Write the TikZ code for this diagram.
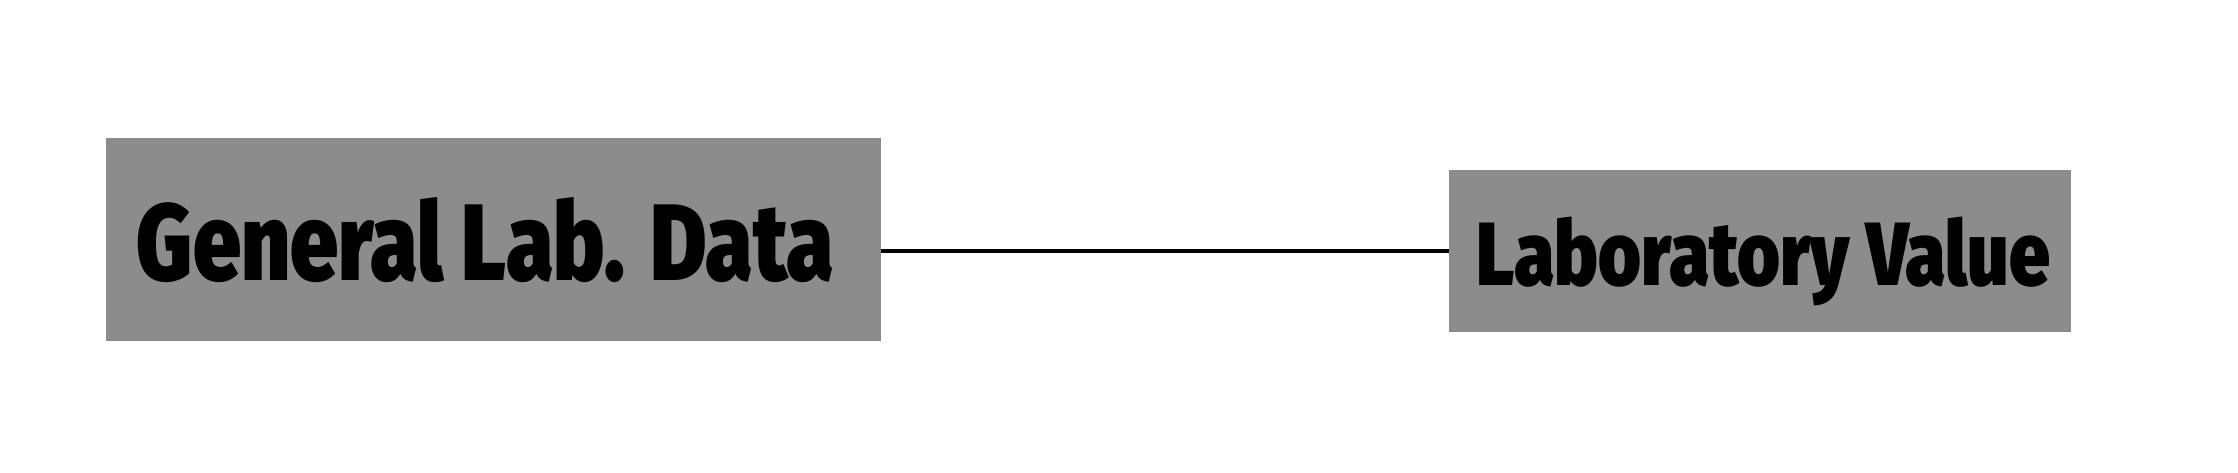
\documentclass[tikz,border=0pt]{standalone}
\usepackage{fontspec}
\IfFontExistsTF{Fira Sans Black}
  {\newfontfamily\heavyfont{Fira Sans Black}}
  {\newfontfamily\heavyfont{Liberation Sans}[UprightFont=*-Bold]}
\usepackage{graphicx}
\definecolor{boxgray}{HTML}{8C8C8C}
\begin{document}
\begin{tikzpicture}[x=1pt,y=-1pt,
  box/.style={fill=boxgray,draw=none,inner sep=0pt,text depth=0pt,anchor=center},
  link/.style={draw=black,line width=4pt}]
\useasboundingbox (0,0) rectangle (2238,473);
\node[box,minimum width=775pt,minimum height=203pt] (gen) at (493.5,239.4)
  {\hspace*{-16pt}\resizebox{697pt}{83pt}{\heavyfont General Lab. Data}};
\node[box,minimum width=622pt,minimum height=162pt] (lab) at (1760,250.8)
  {\hspace*{7pt}\resizebox{573pt}{68.5pt}{\heavyfont Laboratory Value}};
\draw[link] (lab.west) -- (gen.east |- lab.west);
\end{tikzpicture}
\end{document}
